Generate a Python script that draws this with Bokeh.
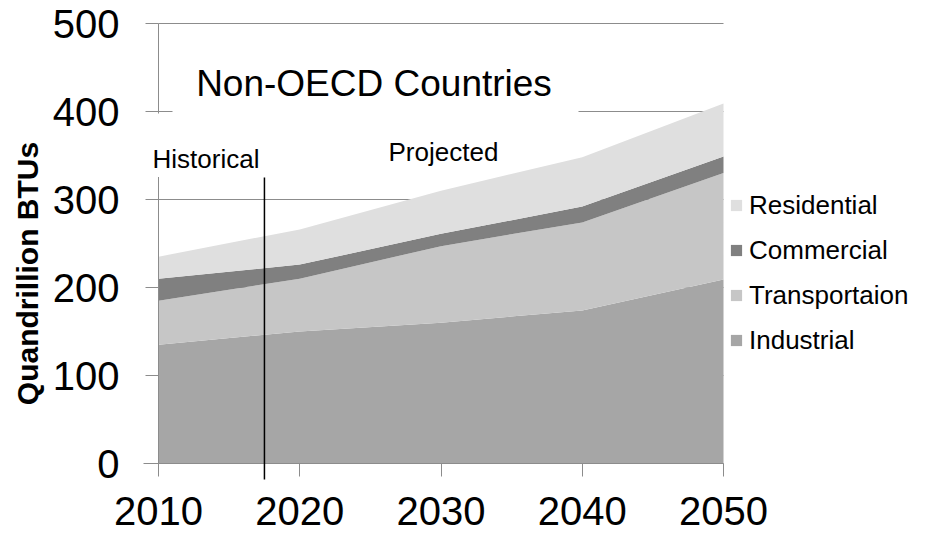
import math

from bokeh.plotting import figure
from bokeh.models import (ColumnDataSource, Range1d, FixedTicker, Legend, LegendItem,
                          Label, BoxAnnotation, Arrow)
from bokeh.embed import file_html
from bokeh.resources import INLINE

# Energy consumption by end-use sector, Non-OECD countries (quadrillion BTUs)
years = [2010, 2020, 2030, 2040, 2050]
industrial = [135, 150, 160, 174, 209]
transportation = [50, 60, 87, 100, 121]
commercial = [25, 16, 14, 18, 19]
residential = [25, 40, 49, 56, 60]

sectors = ["Industrial", "Transportaion", "Commercial", "Residential"]
colors = ["#a6a6a6", "#c6c6c6", "#808080", "#dfdfdf"]
x_ticks = [2010, 2020, 2030, 2040, 2050]
y_ticks = [0, 100, 200, 300, 400, 500]

W, H = 928, 533
FONT = "Liberation Sans"
AXIS_GREY = "#8c8c8c"

# pixel placement of the plotting area inside the canvas
LEFT, RIGHT, TOP, BOTTOM = 158, 723, 23, 463
x_lo, x_hi = years[0], years[-1]
y_lo, y_hi = y_ticks[0], y_ticks[-1]
kx = (RIGHT - LEFT) / (x_hi - x_lo)
ky = (BOTTOM - TOP) / (y_hi - y_lo)


def px_x(px):
    return x_lo + (px - LEFT) / kx


def px_y(py):
    return y_lo + (BOTTOM - py) / ky


source = ColumnDataSource(dict(year=years, Industrial=industrial,
                               Transportaion=transportation,
                               Commercial=commercial, Residential=residential))

p = figure(width=W, height=H, output_backend="svg", toolbar_location=None,
           x_range=Range1d(px_x(0), px_x(W)), y_range=Range1d(px_y(H), px_y(0)),
           min_border=0, title=None)
p.outline_line_color = None
p.background_fill_color = "white"
p.grid.visible = False

# horizontal grid lines, under the stacked areas
p.segment(x0=[x_lo] * len(y_ticks), x1=[x_hi] * len(y_ticks), y0=y_ticks, y1=y_ticks,
          line_color=AXIS_GREY, line_width=1, level="underlay")

areas = p.varea_stack(stackers=sectors, x="year", color=colors, source=source)

# axes pinned to the data origin
xa, ya = p.xaxis[0], p.yaxis[0]
xa.fixed_location = y_lo
ya.fixed_location = x_lo
xa.bounds = (px_x(LEFT - 15), x_hi)
ya.bounds = (y_lo, y_hi)
xa.ticker = FixedTicker(ticks=x_ticks)
ya.ticker = FixedTicker(ticks=y_ticks)
for ax in (xa, ya):
    ax.axis_line_color = AXIS_GREY
    ax.major_tick_line_color = AXIS_GREY
    ax.minor_tick_line_color = None
    ax.major_tick_in = 0
    ax.major_tick_out = 13
    ax.major_label_text_font = FONT
    ax.major_label_text_font_size = "40px"
    ax.major_label_text_color = "black"
xa.major_label_standoff = 20
ya.major_label_standoff = 26

# white panels behind the title and the "Historical" note
p.add_layout(BoxAnnotation(left=px_x(172), right=px_x(578), top=px_y(40), bottom=px_y(113),
                           fill_color="white", fill_alpha=1, line_alpha=0))
p.add_layout(BoxAnnotation(left=px_x(143), right=px_x(262), top=px_y(113), bottom=px_y(176.5),
                           fill_color="white", fill_alpha=1, line_alpha=0))

p.add_layout(Label(x=px_x(373.5), y=px_y(83), text="Non-OECD Countries", text_align="center",
                   text_baseline="alphabetic", text_font=FONT, text_font_size="37px",
                   text_color="black"))
p.add_layout(Label(x=px_x(152), y=px_y(158), text="Historical", text_align="left",
                   text_baseline="alphabetic", text_font=FONT, text_font_size="26px",
                   text_color="black"))
p.add_layout(Label(x=px_x(388), y=px_y(151), text="Projected", text_align="left",
                   text_baseline="alphabetic", text_font=FONT, text_font_size="26px",
                   text_color="black"))
p.add_layout(Label(x=px_x(27), y=px_y(273), text="Quandrillion BTUs", angle=math.pi / 2,
                   text_align="center", text_baseline="middle", text_font=FONT,
                   text_font_size="30px", text_font_style="bold", text_color="black"))

# divider between historical and projected data
p.add_layout(Arrow(end=None, x_start=2017.5, y_start=px_y(177), x_end=2017.5, y_end=px_y(479),
                   line_color="black", line_width=1.5))

items = [LegendItem(label=name, renderers=[r])
         for name, r in reversed(list(zip(sectors, areas)))]
legend = Legend(items=items, location=(729, H - 355.5), orientation="vertical",
                glyph_width=14, glyph_height=14, label_height=28, spacing=14,
                padding=0, margin=0, label_standoff=6,
                label_text_font=FONT, label_text_font_size="26px",
                label_text_color="black", border_line_color=None,
                background_fill_alpha=0)
p.add_layout(legend)

open("out.html", "w").write(file_html(p, INLINE))
